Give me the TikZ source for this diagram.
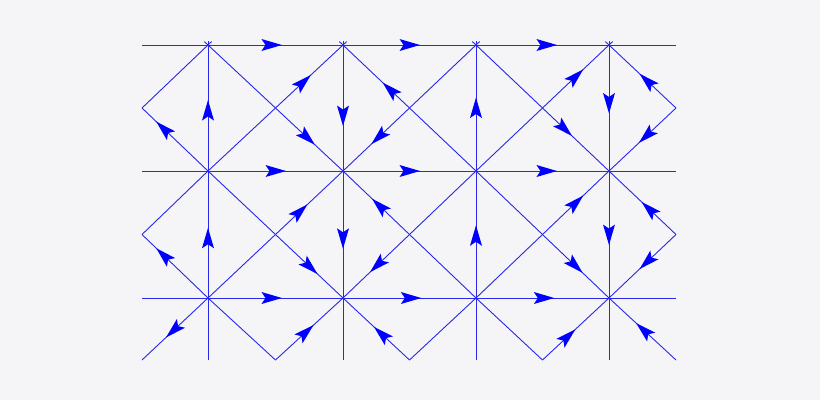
\documentclass[tikz,border=0pt]{standalone}
\usetikzlibrary{decorations.markings}
\definecolor{bg}{RGB}{245,245,247}
\definecolor{lcol}{RGB}{40,40,235}
\definecolor{acol}{RGB}{0,0,255}
\tikzset{
  ln/.style={draw=lcol, line width=0.9pt},
  ar/.style={postaction={decorate, decoration={markings, mark=at position #1 with {\fill[acol, shorten <=0pt, shorten >=0pt] (10.5pt,0pt) -- (-10pt,6pt) -- (-6pt,0pt) -- (-10pt,-6pt) -- cycle;}}}},
  xs/.style={shorten <=-5pt},
  xe/.style={shorten >=-5pt}
}
\begin{document}
\begin{tikzpicture}[x=1pt,y=-1pt]
\fill[bg] (0,0) rectangle (820,400);
\useasboundingbox (0,0) rectangle (820,400);
% vertices
\foreach \i/\x in {0/208,1/343,2/476,3/609}{
  \foreach \j/\y in {0/45,1/171,2/298}{ \coordinate (v\i\j) at (\x,\y); }
  \coordinate (bt\i) at (\x,360);
}
\foreach \j/\y in {0/45,1/171,2/298}{ \coordinate (hl\j) at (142,\y); \coordinate (hr\j) at (676,\y); }
% cell centres, band 1 (x) and band 2 (y)
\coordinate (lA) at (142,108);   \coordinate (lB) at (142,234.5);
\coordinate (rA) at (676,108);   \coordinate (rB) at (676,234.5);
\coordinate (x1) at (275.5,108); \coordinate (x2) at (409.5,108); \coordinate (x3) at (542.5,108);
\coordinate (y1) at (275.5,234.5); \coordinate (y2) at (409.5,234.5); \coordinate (y3) at (542.5,234.5);
\coordinate (b0) at (142,360); \coordinate (b1) at (275.5,360); \coordinate (b2) at (409.5,360);
\coordinate (b3) at (542.5,360); \coordinate (b4) at (676,360);

% horizontal lines
\draw[ln] (hl0) -- (v00);
\draw[ln, ar=0.47] (v00) -- (v10);
\draw[ln, ar=0.50] (v10) -- (v20);
\draw[ln, ar=0.53] (v20) -- (v30);
\draw[ln] (v30) -- (hr0);
\draw[ln] (hl1) -- (v01);
\draw[ln, ar=0.50] (v01) -- (v11);
\draw[ln, ar=0.50] (v11) -- (v21);
\draw[ln, ar=0.53] (v21) -- (v31);
\draw[ln] (v31) -- (hr1);
\draw[ln] (hl2) -- (v02);
\draw[ln, ar=0.47] (v02) -- (v12);
\draw[ln, ar=0.51] (v12) -- (v22);
\draw[ln, ar=0.51] (v22) -- (v32);
\draw[ln] (v32) -- (hr2);

% vertical lines
\draw[ln, ar=0.48, shorten >=-4pt] (v01) -- (v00);
\draw[ln, ar=0.56, shorten <=-4pt] (v10) -- (v11);
\draw[ln, ar=0.50, shorten >=-4pt] (v21) -- (v20);
\draw[ln, ar=0.46, shorten <=-4pt] (v30) -- (v31);
\draw[ln, ar=0.47] (v02) -- (v01);
\draw[ln, ar=0.53] (v11) -- (v12);
\draw[ln, ar=0.49] (v22) -- (v21);
\draw[ln, ar=0.50] (v31) -- (v32);
\foreach \i in {0,1,2,3}{ \draw[ln] (v\i2) -- (bt\i); }

% band 1 diagonals
\draw[ln, xs] (v00) -- (lA);
\draw[ln, ar=0.67] (v01) -- (lA);
\draw[ln] (v01) -- (x1);
\draw[ln, ar=0.41, xe] (x1) -- (v10);
\draw[ln, xs] (v00) -- (x1);
\draw[ln, ar=0.47] (x1) -- (v11);
\draw[ln, ar=0.29, xe] (x2) -- (v10);
\draw[ln] (x2) -- (v21);
\draw[ln, xs] (v20) -- (x2);
\draw[ln, ar=0.46] (x2) -- (v11);
\draw[ln] (v21) -- (x3);
\draw[ln, ar=0.50, xe] (x3) -- (v30);
\draw[ln, xs] (v20) -- (x3);
\draw[ln, ar=0.33] (x3) -- (v31);
\draw[ln, ar=0.43, xe] (rA) -- (v30);
\draw[ln, ar=0.44] (rA) -- (v31);

% band 2 diagonals
\draw[ln] (v01) -- (lB);
\draw[ln, ar=0.67] (v02) -- (lB);
\draw[ln] (v02) -- (y1);
\draw[ln, ar=0.36] (y1) -- (v11);
\draw[ln] (v01) -- (y1);
\draw[ln, ar=0.51] (y1) -- (v12);
\draw[ln, ar=0.45] (y2) -- (v11);
\draw[ln] (y2) -- (v22);
\draw[ln] (v21) -- (y2);
\draw[ln, ar=0.48] (y2) -- (v12);
\draw[ln] (v22) -- (y3);
\draw[ln, ar=0.50] (y3) -- (v31);
\draw[ln] (v21) -- (y3);
\draw[ln, ar=0.49] (y3) -- (v32);
\draw[ln, ar=0.40] (rB) -- (v31);
\draw[ln, ar=0.43] (rB) -- (v32);

% bottom half band
\draw[ln, ar=0.52] (v02) -- (b0);
\draw[ln] (v02) -- (b1);
\draw[ln, ar=0.45] (b1) -- (v12);
\draw[ln, ar=0.42] (b2) -- (v12);
\draw[ln] (v22) -- (b2);
\draw[ln] (v22) -- (b3);
\draw[ln, ar=0.38] (b3) -- (v32);
\draw[ln, ar=0.48] (b4) -- (v32);
\end{tikzpicture}
\end{document}
